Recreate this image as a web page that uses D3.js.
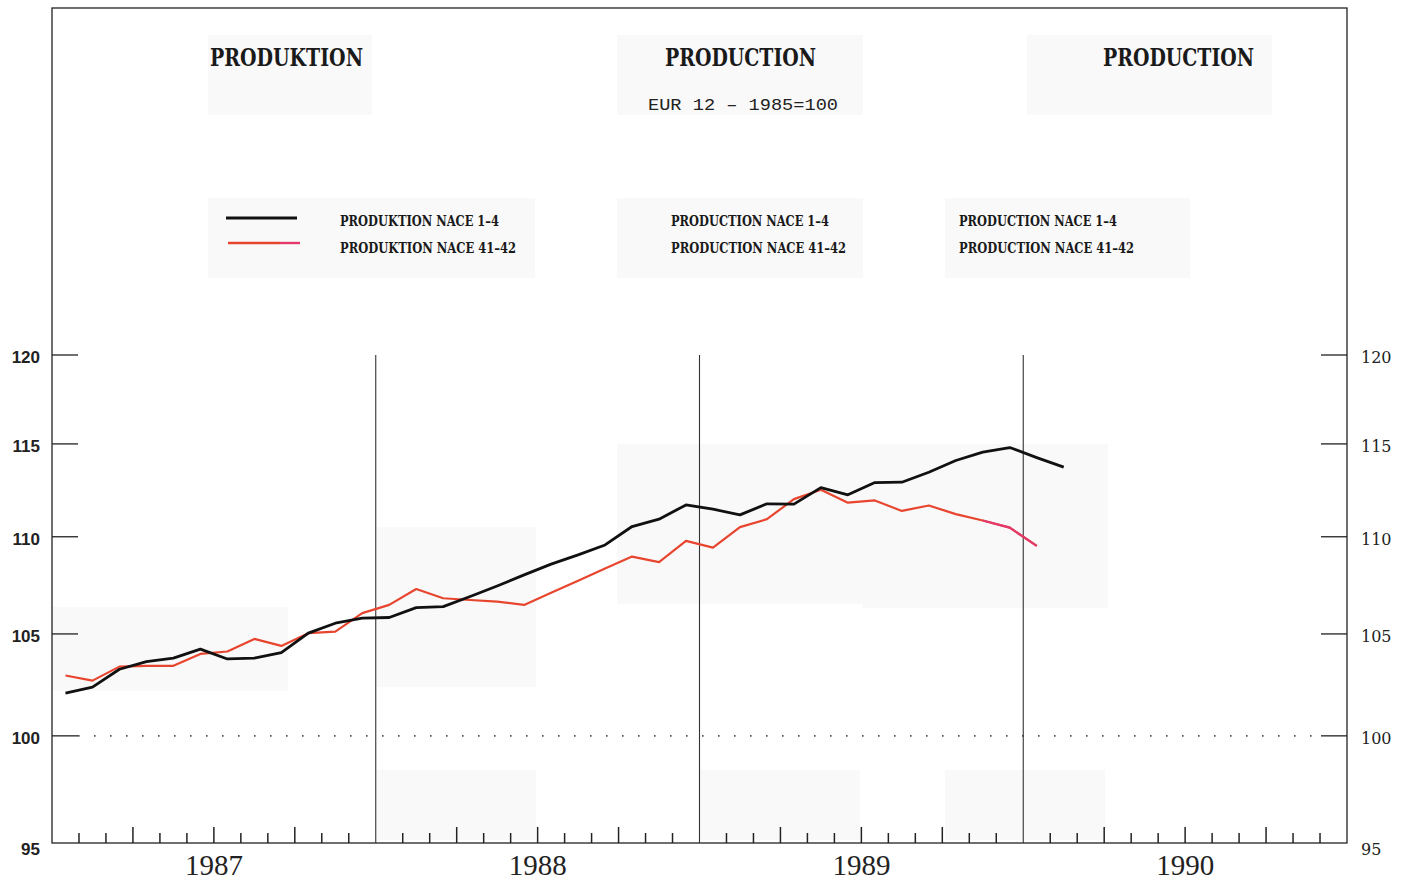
<!DOCTYPE html>
<html><head><meta charset="utf-8">
<script src="https://cdn.jsdelivr.net/npm/d3@7"></script>
<style>body{margin:0;background:#fff}svg{display:block}</style>
</head><body>
<script>
// ---- data ----
const years = ["1987","1988","1989","1990"];
const yTicks = [100,105,110,115,120];
const yBottomLabel = "95";
// Monthly index 1985=100, starting January 1987
const nace14 = [102.07,102.36,103.24,103.62,103.79,104.24,103.75,103.79,104.07,105.04,105.54,105.80,
                105.83,106.33,106.38,106.90,107.44,108.01,108.57,109.05,109.57,110.54,110.93,111.69,
                111.46,111.16,111.75,111.73,112.62,112.23,112.89,112.91,113.45,114.09,114.55,114.80,
                114.25,113.73];
const nace4142 = [102.93,102.68,103.37,103.41,103.41,104.00,104.12,104.75,104.40,105.04,105.12,106.05,
                  106.47,107.28,106.81,106.72,106.64,106.47,107.09,107.71,108.34,108.96,108.67,109.78,
                  109.43,110.51,110.93,112.00,112.50,111.81,111.93,111.37,111.66,111.20,110.86,110.48,
                  109.52];
const titles = ["PRODUKTION","PRODUCTION","PRODUCTION"];
const subtitle = "EUR 12  \u2013  1985=100";
const legendDE = ["PRODUKTION NACE 1\u20134","PRODUKTION NACE 41\u201342"];
const legendEN = ["PRODUCTION NACE 1\u20134","PRODUCTION NACE 41\u201342"];
const legendFR = ["PRODUCTION NACE 1\u20134","PRODUCTION NACE 41\u201342"];

// ---- layout ----
const W=1408,H=880;
const L=52,R=1347,T=8,B=843;
const svg=d3.select("body").append("svg").attr("width",W).attr("height",H);

const x=d3.scaleLinear().domain([0,48]).range([L,R]);
const y=d3.scaleLog().domain([95,120]).range([B,355]);

// faint scan patches
const patches=[[208,35,164,80],[617,35,246,80],[1027,35,245,80],[208,198,327,80],[617,198,246,80],[945,198,245,80],
               [52,607,236,84],[376,527,160,160],[617,444,246,160],[863,444,245,164],[376,770,160,70],[700,770,160,70],[945,770,160,70]];
svg.selectAll("rect.patch").data(patches).join("rect").attr("class","patch")
  .attr("x",d=>d[0]).attr("y",d=>d[1]).attr("width",d=>d[2]).attr("height",d=>d[3]).attr("fill","#f9f9f9");

// frame
svg.append("rect").attr("x",L).attr("y",T).attr("width",R-L).attr("height",B-T)
  .attr("fill","none").attr("stroke","#222").attr("stroke-width",1.3);

// y ticks left and right
yTicks.forEach(v=>{
  svg.append("line").attr("x1",L).attr("x2",L+26).attr("y1",y(v)).attr("y2",y(v)).attr("stroke","#222").attr("stroke-width",1.3);
  svg.append("line").attr("x1",R-26).attr("x2",R).attr("y1",y(v)).attr("y2",y(v)).attr("stroke","#222").attr("stroke-width",1.3);
  svg.append("text").attr("x",40).attr("y",y(v)+8).attr("text-anchor","end")
    .attr("font-family","Liberation Sans, Arial").attr("font-weight","bold").attr("font-size",17).attr("fill","#222").text(v);
  svg.append("text").attr("x",1361).attr("y",y(v)+8)
    .attr("font-family","DejaVu Serif").attr("font-size",16).attr("fill","#222").text(v);
});
svg.append("text").attr("x",40).attr("y",B+12).attr("text-anchor","end")
  .attr("font-family","Liberation Sans, Arial").attr("font-weight","bold").attr("font-size",17).attr("fill","#222").text(yBottomLabel);
svg.append("text").attr("x",1361).attr("y",B+12)
  .attr("font-family","DejaVu Serif").attr("font-size",16).attr("fill","#222").text(yBottomLabel);

// dotted 100 line
svg.append("line").attr("x1",L+26).attr("x2",R-26).attr("y1",y(100)).attr("y2",y(100))
  .attr("stroke","#555").attr("stroke-width",1.6).attr("stroke-dasharray","1.6,14.4");

// month ticks
const months=d3.range(1,48).filter(i=>i%12!==0);
svg.selectAll("line.mt").data(months).join("line").attr("class","mt")
  .attr("x1",d=>x(d)).attr("x2",d=>x(d)).attr("y1",B).attr("y2",d=>B-(d%3===0?16:10))
  .attr("stroke","#222").attr("stroke-width",1.5);

// year separators
[12,24,36].forEach(m=>{
  svg.append("line").attr("x1",x(m)).attr("x2",x(m)).attr("y1",y(120)).attr("y2",B).attr("stroke","#333").attr("stroke-width",1.1);
});
// year labels
years.forEach((t,i)=>{
  svg.append("text").attr("x",x(i*12+6)).attr("y",875).attr("text-anchor","middle")
    .attr("font-family","Liberation Serif, Times New Roman").attr("font-size",29).attr("fill","#222").text(t);
});

// lines
const line=d3.line().x((d,i)=>x(i+0.5)).y(d=>y(d));
svg.append("path").datum(nace4142).attr("d",line).attr("fill","none").attr("stroke","#e8452f").attr("stroke-width",2.2).attr("stroke-linejoin","round");
// magenta tail as in print
const tailStart=nace4142.length-3;
const line2=d3.line().x((d,i)=>x(tailStart+i+0.5)).y(d=>y(d));
svg.append("path").datum(nace4142.slice(tailStart)).attr("d",line2).attr("fill","none").attr("stroke","#e33a6e").attr("stroke-width",2.2).attr("stroke-linejoin","round");
svg.append("path").datum(nace14).attr("d",line).attr("fill","none").attr("stroke","#111").attr("stroke-width",2.8).attr("stroke-linejoin","round");

// titles
const tf="DejaVu Serif";
const titleX=[[210,153],[665,151],[1103,151]];
titles.forEach((t,i)=>{
  svg.append("text").attr("x",titleX[i][0]).attr("y",66).attr("textLength",titleX[i][1]).attr("lengthAdjust","spacingAndGlyphs")
    .attr("font-family",tf).attr("font-weight","bold").attr("font-size",24).attr("fill","#1a1a1a").text(t);
});
svg.append("text").attr("x",648).attr("y",110).attr("textLength",190).attr("lengthAdjust","spacingAndGlyphs")
  .attr("font-family","Liberation Mono, DejaVu Sans Mono").attr("font-size",17).attr("fill","#222").text(subtitle);

// legend
svg.append("line").attr("x1",226).attr("x2",297).attr("y1",218).attr("y2",218).attr("stroke","#111").attr("stroke-width",2.8);
svg.append("line").attr("x1",228).attr("x2",280).attr("y1",243).attr("y2",243).attr("stroke","#e8452f").attr("stroke-width",2.4);
svg.append("line").attr("x1",280).attr("x2",300).attr("y1",243).attr("y2",243).attr("stroke","#e33a6e").attr("stroke-width",2.4);
const legSets=[[340,legendDE,[159,176]],[671,legendEN,[158,175]],[959,legendFR,[158,175]]];
legSets.forEach(([lx,txt,lens])=>{
  txt.forEach((t,j)=>{
    svg.append("text").attr("x",lx).attr("y",226+j*27).attr("textLength",lens[j]).attr("lengthAdjust","spacingAndGlyphs")
      .attr("font-family",tf).attr("font-weight","bold").attr("font-size",15).attr("fill","#1a1a1a").text(t);
  });
});
</script>
</body></html>
